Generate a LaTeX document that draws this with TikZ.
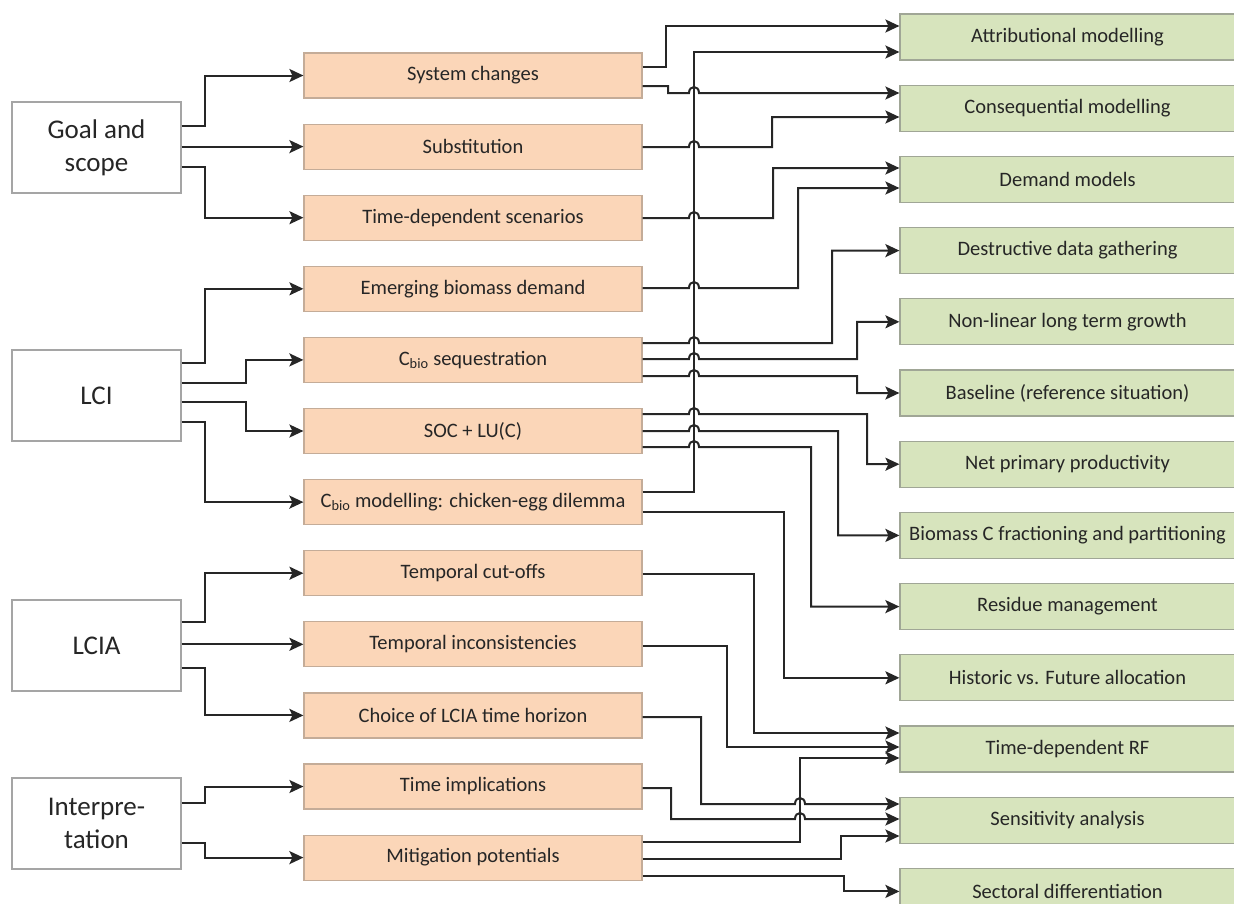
\documentclass[tikz,border=0pt]{standalone}
\usepackage{fontspec}
\setmainfont{Carlito}
\usetikzlibrary{positioning,arrows.meta}
\definecolor{stageline}{RGB}{165,165,165}
\definecolor{issuefill}{RGB}{251,214,184}
\definecolor{issueline}{RGB}{196,172,152}
\definecolor{methfill}{RGB}{215,228,189}
\definecolor{methline}{RGB}{160,166,150}
\definecolor{wire}{RGB}{38,38,38}

\begin{document}
\begin{tikzpicture}[x=1pt, y=-1pt,
  stage/.style={draw=stageline, line width=1.2pt, fill=white, minimum width=169pt,
                minimum height=91pt, inner sep=0pt, align=center,
                font=\fontsize{27}{33}\selectfont, text=wire},
  issue/.style={draw=issueline, line width=1.2pt, fill=issuefill, minimum width=338pt,
                minimum height=45pt, inner sep=0pt, font=\fontsize{20.5}{24}\selectfont, text=wire},
  meth/.style={draw=methline, line width=1.2pt, fill=methfill, minimum width=335pt,
               minimum height=46pt, inner sep=0pt, font=\fontsize{20.5}{24}\selectfont, text=wire},
  arr/.style={-{Stealth[length=14pt, width=13pt, inset=3pt]}, line width=2pt, draw=wire},
  hop/.style={to path={-- ([xshift=-5pt]\tikztotarget)
              .. controls +(0,8pt) and +(0,8pt) .. ([xshift=5pt]\tikztotarget)}},
  ]
  \useasboundingbox (0,0) rectangle (1234,903);

  \node[stage] (goal) at (96.5,147.5) {Goal and\\scope};
  \node[stage] (lci) at (96.5,395.5) {LCI};
  \node[stage] (lcia) at (96.5,645.5) {LCIA};
  \node[stage] (interp) at (96.5,823.5) {Interpre-\\tation};

  \node[issue] (sysch) at (473,75.5) {System changes};
  \node[issue, below=24.9pt of sysch] (subst) {Substitution};
  \node[issue, below=24.9pt of subst] (tdscen) {Time-dependent scenarios};
  \node[issue, below=24.9pt of tdscen] (emerg) {Emerging biomass demand};
  \node[issue, below=24.9pt of emerg] (cseq) {C\textsubscript{bio} sequestration};
  \node[issue, below=24.9pt of cseq] (soc) {SOC + LU(C)};
  \node[issue, below=24.9pt of soc] (cmod) {C\textsubscript{bio} modelling: chicken-egg dilemma};
  \node[issue, below=24.9pt of cmod] (tcut) {Temporal cut-offs};
  \node[issue, below=24.9pt of tcut] (tincon) {Temporal inconsistencies};
  \node[issue, below=24.9pt of tincon] (horizon) {Choice of LCIA time horizon};
  \node[issue, below=24.9pt of horizon] (timpl) {Time implications};
  \node[issue, below=24.9pt of timpl] (mitig) {Mitigation potentials};

  \node[meth] (attr) at (1067.5,37) {Attributional modelling};
  \node[meth, below=24pt of attr] (conseq) {Consequential modelling};
  \node[meth, below=24pt of conseq] (demand) {Demand models};
  \node[meth, below=24pt of demand] (destr) {Destructive data gathering};
  \node[meth, below=24pt of destr] (nonlin) {Non-linear long term growth};
  \node[meth, below=24pt of nonlin] (basel) {Baseline (reference situation)};
  \node[meth, below=24pt of basel] (npp) {Net primary productivity};
  \node[meth, below=24pt of npp] (biomc) {Biomass C fractioning and partitioning};
  \node[meth, below=24pt of biomc] (resid) {Residue management};
  \node[meth, below=24pt of resid] (hist) {Historic vs. Future allocation};
  \node[meth, below=24pt of hist] (tdrf) {Time-dependent RF};
  \node[meth, below=24pt of tdrf] (sens) {Sensitivity analysis};
  \node[meth, below=24pt of sens] (sector) {Sectoral differentiation};

  \draw[arr] (goal.east |- 0,126) -- (205,126) |- (sysch.west);
  \draw[arr] (goal.east |- subst.west) -- (subst.west);
  \draw[arr] (goal.east |- 0,167) -- (205,167) |- (tdscen.west);
  \draw[arr] (lci.east |- 0,363) -- (205,363) |- (emerg.west);
  \draw[arr] (lci.east |- 0,383) -- (246,383) |- (cseq.west);
  \draw[arr] (lci.east |- 0,402) -- (246,402) |- (soc.west);
  \draw[arr] (lci.east |- 0,422) -- (205,422) |- (cmod.west);
  \draw[arr] (lcia.east |- 0,622) -- (205,622) |- (tcut.west);
  \draw[arr] (lcia.east |- tincon.west) -- (tincon.west);
  \draw[arr] (lcia.east |- 0,668) -- (205,668) |- (horizon.west);
  \draw[arr] (interp.east |- 0,803) -- (205,803) |- (timpl.west);
  \draw[arr] (interp.east |- 0,843) -- (205,843) |- (mitig.west);

  \draw[arr] (sysch.east |- 0,67) -- (666,67) |- (attr.west |- 0,26);
  \draw[arr] (cmod.east |- 0,492) -- (694,492) |- (attr.west |- 0,52);
  \draw[arr] (sysch.east |- 0,86) -- (668,86) -- (668,93) to[hop] (694,93) -- (conseq.west |- 0,93);
  \draw[arr] (subst.east |- 0,147) to[hop] (694,147) -- (772,147) |- (conseq.west |- 0,117);
  \draw[arr] (tdscen.east |- 0,218) to[hop] (694,218) -- (773,218) |- (demand.west |- 0,168);
  \draw[arr] (emerg.east |- 0,288) to[hop] (694,288) -- (798,288) |- (demand.west |- 0,188);
  \draw[arr] (cseq.east |- 0,343) to[hop] (694,343) -- (832,343) |- (destr.west);
  \draw[arr] (cseq.east |- 0,359) to[hop] (694,359) -- (857,359) |- (nonlin.west);
  \draw[arr] (cseq.east |- 0,376) to[hop] (694,376) -- (857,376) |- (basel.west);
  \draw[arr] (soc.east |- 0,414) to[hop] (694,414) -- (867,414) |- (npp.west);
  \draw[arr] (soc.east |- 0,431) to[hop] (694,431) -- (838,431) |- (biomc.west);
  \draw[arr] (soc.east |- 0,447) to[hop] (694,447) -- (811,447) |- (resid.west);
  \draw[arr] (cmod.east |- 0,512) -- (784,512) |- (hist.west);
  \draw[arr] (tcut.east |- 0,574) -- (754,574) |- (tdrf.west |- 0,733);
  \draw[arr] (tincon.east |- 0,646) -- (727,646) |- (tdrf.west |- 0,747);
  \draw[arr] (mitig.east |- 0,842) -- (800,842) |- (tdrf.west |- 0,758);
  \draw[arr] (horizon.east |- 0,717) -- (701,717) -- (701,804) to[hop] (800,804) -- (sens.west |- 0,804);
  \draw[arr] (timpl.east |- 0,788) -- (671,788) -- (671,819) to[hop] (800,819) -- (sens.west |- 0,819);
  \draw[arr] (mitig.east |- 0,859) -- (841,859) |- (sens.west |- 0,836);
  \draw[arr] (mitig.east |- 0,876) -- (844,876) |- (sector.west);
\end{tikzpicture}
\end{document}
